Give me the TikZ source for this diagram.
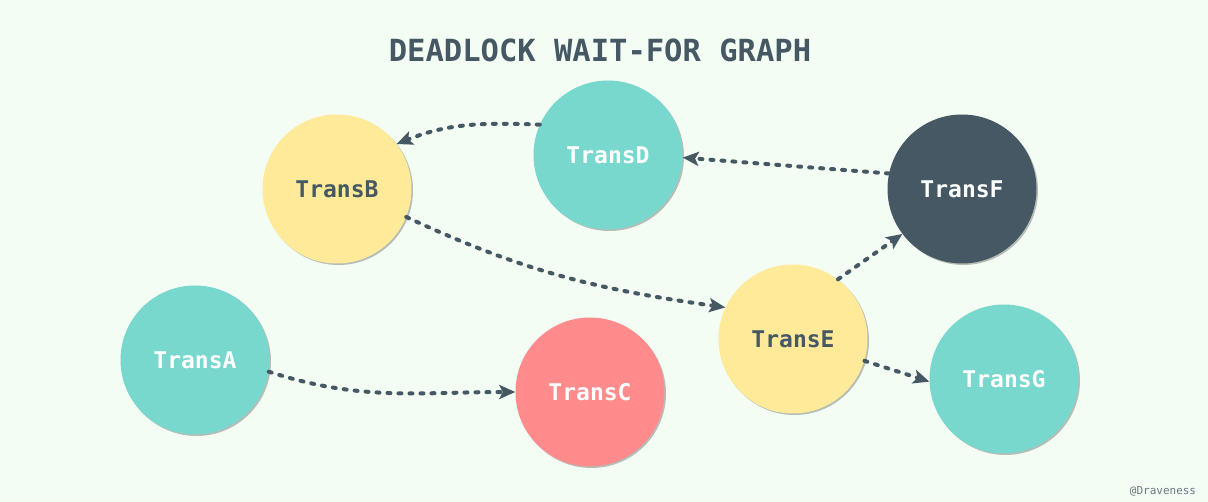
\documentclass[tikz,border=0pt]{standalone}
\usepackage{fontspec}
\setmonofont{DejaVu Sans Mono}
\usetikzlibrary{shadows,arrows.meta}

\definecolor{bgmint}{RGB}{244,253,244}
\definecolor{slate}{RGB}{69,88,99}
\definecolor{teal}{RGB}{121,216,206}
\definecolor{sand}{RGB}{255,234,153}
\definecolor{salmon}{RGB}{255,139,140}

\begin{document}
\begin{tikzpicture}[x=1pt, y=-1pt,
		main/.style = {circle, minimum size=149pt, inner sep=0pt,
			font=\ttfamily\bfseries\fontsize{23}{23}\selectfont,
			drop shadow={shadow xshift=1.5pt, shadow yshift=-1.5pt, opacity=0.25, fill=black}},
		light/.style = {main, fill=teal, text=white},
		warm/.style = {main, fill=sand, text=slate},
		hot/.style = {main, fill=salmon, text=white},
		dark/.style = {main, fill=slate, text=white},
		wait/.style = {draw=slate, line width=4pt, line cap=round,
			dash pattern=on 3pt off 8pt,
			-{Stealth[length=16pt, width=14pt, inset=3.5pt, fill=slate]}}]

		\fill[bgmint] (0,0) rectangle (1208,502);
		\useasboundingbox (0,0) rectangle (1208,502);

		\node[text=slate, font=\ttfamily\bfseries\fontsize{30.5}{30.5}\selectfont] (title) at (600,50) {DEADLOCK WAIT-FOR GRAPH};

		\node[light] (A) at (195,360) {TransA};
		\node[warm] (B) at (337,189) {TransB};
		\node[hot] (C) at (590,392) {TransC};
		\node[light] (D) at (608,155) {TransD};
		\node[warm] (E) at (793,339) {TransE};
		\node[dark] (F) at (962,189) {TransF};
		\node[light] (G) at (1004,379) {TransG};

		\draw[wait] (D.156) to[out=178, in=22] (B.37);
		\draw[wait] (F.168) to (D.-2);
		\draw[wait] (B.-22) to[out=-25, in=172] (E.155);
		\draw[wait] (E.53) to (F.217);
		\draw[wait] (E.-17) to (G.182);
		\draw[wait] (A.-9) to[out=-18, in=180] (C.180);

		\node[text=slate!80, font=\ttfamily\fontsize{11}{11}\selectfont] (mark) at (1163,491) {@Draveness};
	\end{tikzpicture}
\end{document}
